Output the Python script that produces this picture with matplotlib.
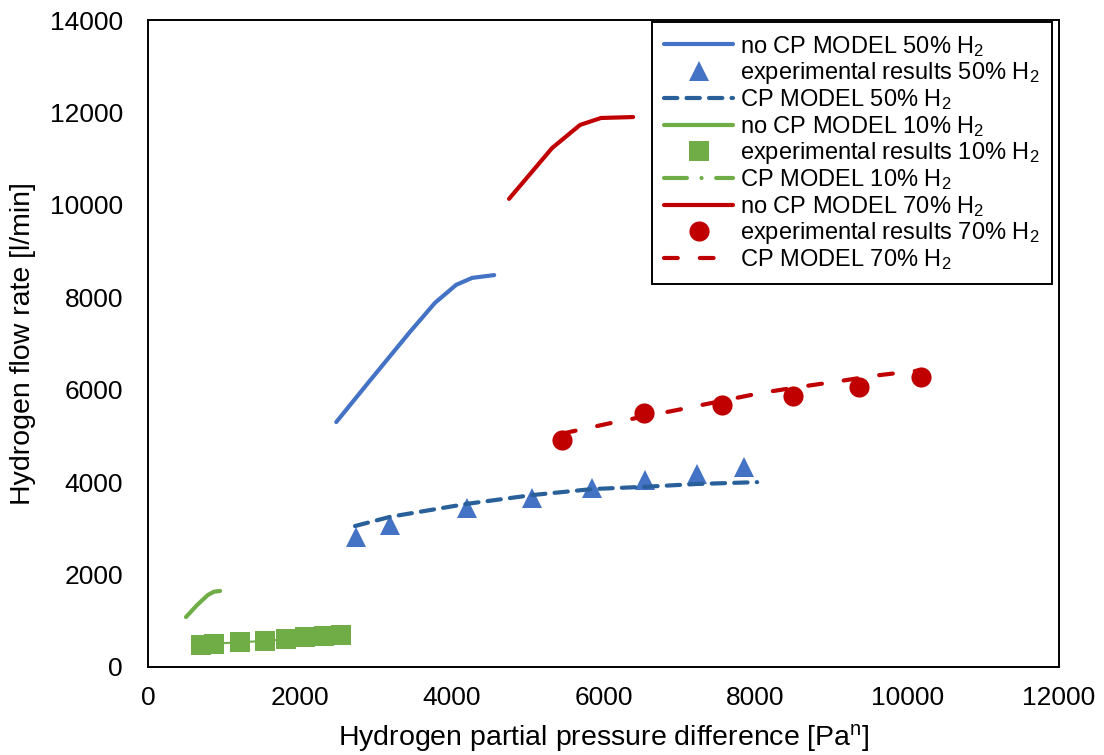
import matplotlib
matplotlib.use("Agg")
import matplotlib.pyplot as plt

plt.rcParams["font.family"] = ["Liberation Sans", "DejaVu Sans"]
plt.rcParams["mathtext.fontset"] = "custom"
plt.rcParams["mathtext.rm"] = "Liberation Sans"
plt.rcParams["mathtext.it"] = "Liberation Sans:italic"

# 50% H2
nocp50_x = [2480, 2900, 3450, 3780, 4060, 4270, 4560]
nocp50_y = [5300, 6150, 7250, 7880, 8270, 8420, 8480]
exp50_x = [2740, 3190, 4200, 5060, 5850, 6550, 7230, 7850]
exp50_y = [2810, 3070, 3440, 3660, 3870, 4050, 4180, 4330]
cp50_x = [2727, 3190, 4200, 5060, 5850, 6550, 7230, 8024]
cp50_y = [3050, 3250, 3530, 3720, 3850, 3900, 3960, 4000]

# 10% H2
nocp10_x = [500, 646, 790, 870, 949]
nocp10_y = [1080, 1340, 1560, 1630, 1645]
exp10_x = [698, 870, 1212, 1541, 1818, 2068, 2319, 2543]
exp10_y = [476, 500, 540, 565, 600, 640, 665, 690]
cp10_x = [698, 870, 1212, 1541, 1818, 2068, 2319, 2543]
cp10_y = [480, 505, 535, 565, 600, 635, 665, 690]

# 70% H2
nocp70_x = [4756, 5323, 5692, 5968, 6390]
nocp70_y = [10130, 11230, 11730, 11880, 11900]
exp70_x = [5455, 6535, 7563, 8498, 9368, 10184]
exp70_y = [4910, 5500, 5670, 5870, 6060, 6280]
cp70_x = [5455, 6100, 6535, 7090, 7563, 8076, 8577, 9050, 9550, 10184]
cp70_y = [5050, 5280, 5420, 5600, 5760, 5930, 6060, 6170, 6300, 6420]

BLUE = "#4472C4"
DBLUE = "#2a6099"
GREEN = "#70AD47"
RED = "#C00000"

fig = plt.figure(figsize=(11.04, 7.55), dpi=100)
ax = fig.add_axes([148 / 1104, 1 - 667 / 755, 911 / 1104, 647 / 755])

lw = 3.0
ax.plot(nocp50_x, nocp50_y, color=BLUE, lw=lw, solid_capstyle="round",
        label=r"no CP MODEL 50% H$_\mathrm{2}$")
ax.plot(exp50_x, exp50_y, "^", color=BLUE, ms=14, mew=0,
        label=r"experimental results 50% H$_\mathrm{2}$")
ax.plot(cp50_x, cp50_y, color=DBLUE, lw=lw, dash_capstyle="round",
        linestyle=(0, (3.2, 2.2)), label=r"CP MODEL 50% H$_\mathrm{2}$")
ax.plot(nocp10_x, nocp10_y, color=GREEN, lw=lw, solid_capstyle="round",
        label=r"no CP MODEL 10% H$_\mathrm{2}$")
ax.plot(cp10_x, cp10_y, color=GREEN, lw=1.5, zorder=2)
ax.plot(exp10_x, exp10_y, "s", color=GREEN, ms=14, mew=0, zorder=3,
        label=r"experimental results 10% H$_\mathrm{2}$")
ax.plot([], [], color=GREEN, lw=lw, dash_capstyle="round",
        linestyle=(0, (5.5, 3.5, 0.01, 3.5)), label=r"CP MODEL 10% H$_\mathrm{2}$")
ax.plot(nocp70_x, nocp70_y, color=RED, lw=lw, solid_capstyle="round",
        label=r"no CP MODEL 70% H$_\mathrm{2}$")
ax.plot(exp70_x, exp70_y, "o", color=RED, ms=14.5, mew=0,
        label=r"experimental results 70% H$_\mathrm{2}$")
ax.plot(cp70_x, cp70_y, color=RED, lw=lw, dash_capstyle="round",
        linestyle=(0, (3.3, 5.3)), label=r"CP MODEL 70% H$_\mathrm{2}$")

ax.set_xlim(0, 12000)
ax.set_ylim(0, 14000)
ax.set_xticks(range(0, 12001, 2000))
ax.set_yticks(range(0, 14001, 2000))
ax.tick_params(axis="both", length=0, labelsize=19)
ax.tick_params(axis="y", pad=18)
ax.tick_params(axis="x", pad=14)
for s in ax.spines.values():
    s.set_linewidth(1.4)
    s.set_color("black")

ax.set_xlabel(r"Hydrogen partial pressure difference [Pa$^\mathrm{n}$]", fontsize=20.5, labelpad=8)
ax.set_ylabel("Hydrogen flow rate [l/min]", fontsize=20.5, labelpad=10)

leg = ax.legend(loc="upper right", bbox_to_anchor=(0.992, 0.997), borderaxespad=0,
                fontsize=17, frameon=True, fancybox=False, edgecolor="black",
                handlelength=2.95, handletextpad=0.3, labelspacing=0.06,
                borderpad=0.5, framealpha=1)
leg.get_frame().set_linewidth(1.4)

fig.savefig("out.png", dpi=100)
